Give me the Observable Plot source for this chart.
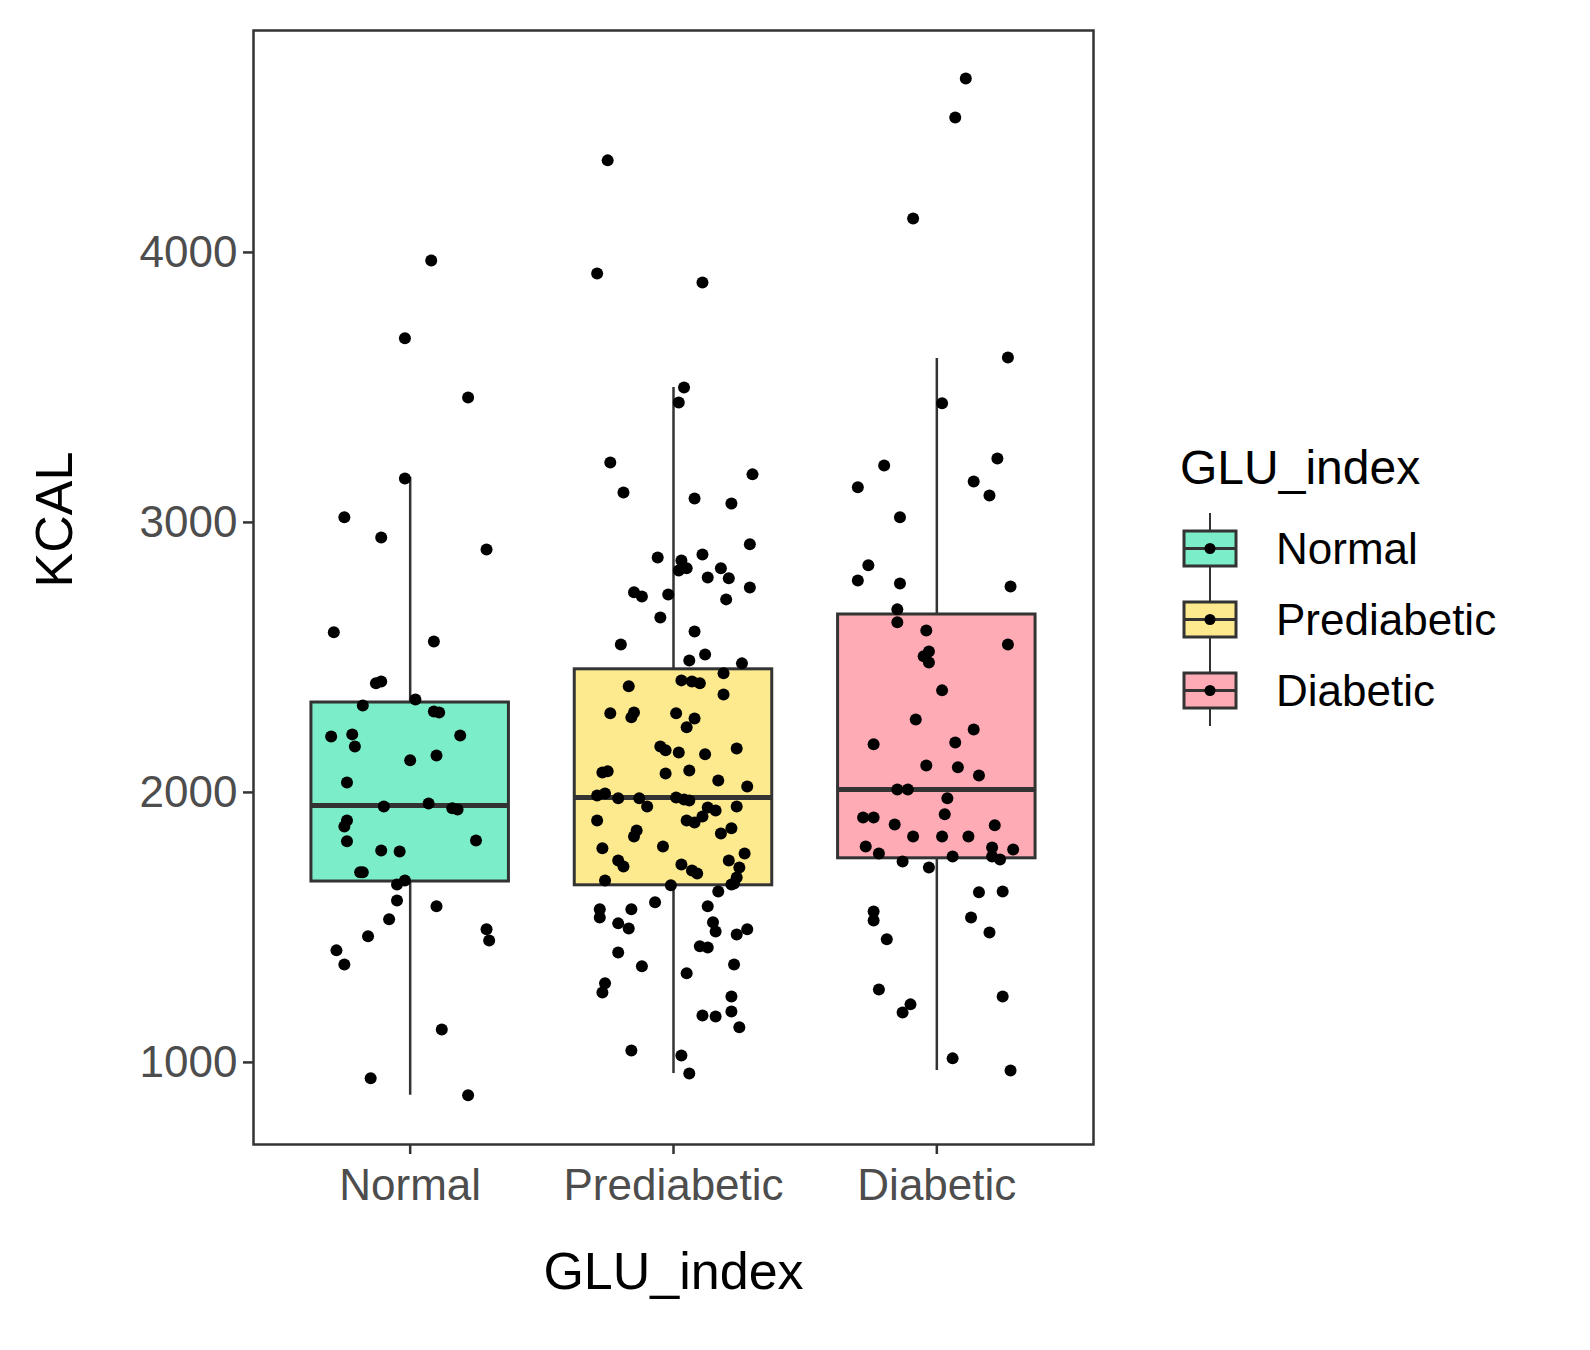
<!DOCTYPE html>
<html>
<head>
<meta charset="utf-8">
<script src="https://cdn.jsdelivr.net/npm/d3@7"></script>
<script src="https://cdn.jsdelivr.net/npm/@observablehq/plot@0.6"></script>
<style>
  html, body { margin: 0; background: #fff; font-family: "Liberation Sans", Arial, sans-serif; overflow: hidden; }
  #wrap { position: relative; width: 1590px; height: 1350px; overflow: hidden; }
  #chart svg { display: block; max-width: none; }
  #legend { position: absolute; left: 1180px; top: 440px; }
  #legend .title { font-size: 48px; color: #000; margin-bottom: 18px; }
  #legend .row { display: flex; align-items: center; height: 71px; font-size: 44px; }
  #legend svg { margin-right: 36px; }
</style>
</head>
<body>
<div id="wrap"><div id="chart"></div><div id="legend"></div></div>
<script>
const groups = ['Normal', 'Prediabetic', 'Diabetic'];
const colors = ['#7beec9', '#fdea8f', '#ffabb6'];

// box statistics
const lower = [878, 959, 970];
const q1 = [1670, 1656, 1756];
const median = [1952, 1981, 2011];
const q3 = [2333, 2456, 2659];
const upper = [3167, 3500, 3607];

// jittered points: [horizontal jitter (category units), KCAL]
const normalPoints = [
  [.08,3970],[-.02,3682],[.22,3463],[-.02,3163],[-.25,3019],[-.11,2944],[.29,2900],[-.29,2593],
  [.09,2559],[-.11,2411],[-.13,2404],[.02,2344],[-.18,2322],[.09,2300],[.11,2296],[-.30,2207],
  [-.22,2215],[.19,2211],[-.21,2170],[0,2119],[.10,2137],[-.24,2037],[-.10,1948],[.07,1959],
  [.16,1941],[.18,1937],[.25,1822],[-.24,1896],[-.25,1874],[-.24,1819],[-.11,1785],[-.04,1781],
  [-.18,1704],[-.19,1704],[-.02,1674],[-.05,1659],[-.05,1600],[.10,1578],[-.08,1530],[-.16,1467],
  [.29,1493],[.30,1452],[-.28,1415],[-.25,1363],[.12,1122],[-.15,941],[.22,878]
];
const prediabeticPoints = [
  [-.25,4341],[-.29,3922],[.11,3889],[.04,3500],[.02,3444],[-.24,3222],[.30,3178],[-.19,3111],
  [.08,3089],[.22,3070],[.29,2919],[-.06,2870],[.11,2881],[.03,2859],[.05,2830],[.02,2822],
  [.18,2830],[.13,2796],[-.15,2741],[-.12,2726],[-.02,2733],[.21,2793],[.29,2759],[.20,2715],
  [-.05,2648],[.08,2596],[-.20,2548],[.12,2511],[.06,2489],[.26,2478],[.19,2441],[.03,2415],
  [.07,2411],[.10,2404],[-.17,2393],[.19,2363],[-.24,2293],[-.15,2296],[-.16,2278],[.01,2293],
  [.08,2274],[.05,2241],[-.05,2170],[.24,2163],[-.03,2156],[.02,2148],[.12,2141],[-.27,2074],
  [-.25,2078],[.06,2081],[.17,2044],[-.03,2070],[.28,2022],[-.29,1989],[-.26,1996],[-.21,1978],
  [-.13,1978],[.01,1981],[.04,1974],[.06,1970],[-.10,1948],[.13,1944],[.16,1933],[.24,1948],
  [.11,1911],[.08,1889],[.05,1896],[-.29,1896],[.22,1867],[-.14,1859],[-.15,1837],[.18,1848],
  [-.04,1800],[-.27,1793],[.27,1774],[-.21,1748],[-.19,1726],[.03,1733],[.09,1700],[.21,1748],
  [.25,1722],[-.26,1674],[.24,1685],[.22,1659],[-.01,1656],[.07,1711],[-.07,1593],[-.28,1567],
  [-.16,1567],[.17,1633],[.23,1663],[.13,1578],[-.28,1537],[.15,1519],[-.21,1515],[-.17,1496],
  [.16,1485],[.28,1493],[.24,1474],[.10,1430],[.13,1426],[-.21,1407],[.23,1363],[-.12,1356],
  [.05,1330],[-.26,1293],[-.27,1259],[.22,1244],[.11,1174],[.16,1170],[.22,1189],[.25,1130],
  [-.16,1044],[.03,1026],[.06,959]
];
const diabeticPoints = [
  [.11,4644],[.07,4500],[-.09,4126],[.27,3611],[.02,3441],[-.20,3211],[.23,3237],[-.30,3130],
  [.14,3152],[.20,3100],[-.14,3019],[-.26,2841],[-.30,2785],[-.14,2774],[.28,2763],[-.15,2678],
  [-.15,2630],[-.04,2600],[.27,2548],[-.05,2504],[-.03,2522],[-.03,2481],[.02,2378],[-.08,2270],
  [.14,2233],[-.24,2178],[.07,2185],[-.04,2100],[.08,2093],[.16,2063],[-.15,2011],[-.11,2011],
  [.04,1978],[.03,1919],[-.28,1907],[-.24,1907],[-.16,1881],[.22,1878],[.02,1837],[.12,1837],
  [-.09,1837],[-.27,1800],[-.22,1774],[.21,1796],[.29,1789],[.21,1763],[.06,1763],[.24,1752],
  [-.13,1744],[-.03,1722],[.16,1630],[.25,1633],[-.24,1559],[-.24,1526],[.13,1537],[.20,1481],
  [-.19,1456],[-.22,1270],[.25,1244],[-.10,1215],[-.13,1185],[.06,1015],[.28,970]
];

const boxes = groups.map((g, i) => ({i, g, lo: lower[i], q1: q1[i], med: median[i], q3: q3[i], hi: upper[i], fill: colors[i]}));
const points = [normalPoints, prediabeticPoints, diabeticPoints]
  .flatMap((pts, i) => pts.map(([j, k]) => ({x: i + j, kcal: k})));
const hw = 0.375;

const chart = Plot.plot({
  width: 1130,
  height: 1320,
  marginLeft: 253,
  marginRight: 37,
  marginTop: 30,
  marginBottom: 176,
  style: {fontFamily: '"Liberation Sans", Arial, sans-serif', background: '#fff'},
  x: {domain: [-0.595, 2.595]},
  y: {domain: [696, 4822]},
  marks: [
    Plot.frame({stroke: '#333', strokeWidth: 2.5}),
    Plot.ruleX(boxes, {x: 'i', y1: 'lo', y2: 'hi', stroke: '#333', strokeWidth: 2.5}),
    Plot.rect(boxes, {x1: d => d.i - hw, x2: d => d.i + hw, y1: 'q1', y2: 'q3', fill: 'fill', stroke: '#333', strokeWidth: 3}),
    Plot.ruleY(boxes, {x1: d => d.i - hw, x2: d => d.i + hw, y: 'med', stroke: '#333', strokeWidth: 5}),
    Plot.dot(points, {x: 'x', y: 'kcal', r: 6, fill: '#000'}),
    Plot.axisX({ticks: [0, 1, 2], tickFormat: i => groups[i], tickSize: 10, tickPadding: 14, fontSize: 44, fill: '#4d4d4d', stroke: '#333', strokeWidth: 2.5, label: null}),
    Plot.axisY({ticks: [1000, 2000, 3000, 4000], tickFormat: d => String(d), tickSize: 10, tickPadding: 6, fontSize: 44, fill: '#4d4d4d', stroke: '#333', strokeWidth: 2.5, label: null}),
    Plot.text(['GLU_index'], {frameAnchor: 'bottom', lineAnchor: 'middle', dy: 128, fontSize: 52, fill: '#000'}),
    Plot.text(['KCAL'], {frameAnchor: 'left', dx: -198, rotate: -90, fontSize: 52, fill: '#000'})
  ]
});
document.getElementById('chart').append(chart);

const legend = d3.select('#legend');
legend.append('div').attr('class', 'title').text('GLU_index');
groups.forEach((g, i) => {
  const row = legend.append('div').attr('class', 'row');
  const s = row.append('svg').attr('width', 60).attr('height', 71);
  s.append('line').attr('x1', 30).attr('x2', 30).attr('y1', 0).attr('y2', 71).attr('stroke', '#333').attr('stroke-width', 2);
  s.append('rect').attr('x', 4).attr('y', 18).attr('width', 52).attr('height', 35).attr('fill', colors[i]).attr('stroke', '#333').attr('stroke-width', 3);
  s.append('line').attr('x1', 4).attr('x2', 56).attr('y1', 35.5).attr('y2', 35.5).attr('stroke', '#333').attr('stroke-width', 3);
  s.append('circle').attr('cx', 30).attr('cy', 35.5).attr('r', 5.5).attr('fill', '#000');
  row.append('span').text(g);
});
</script>
</body>
</html>
